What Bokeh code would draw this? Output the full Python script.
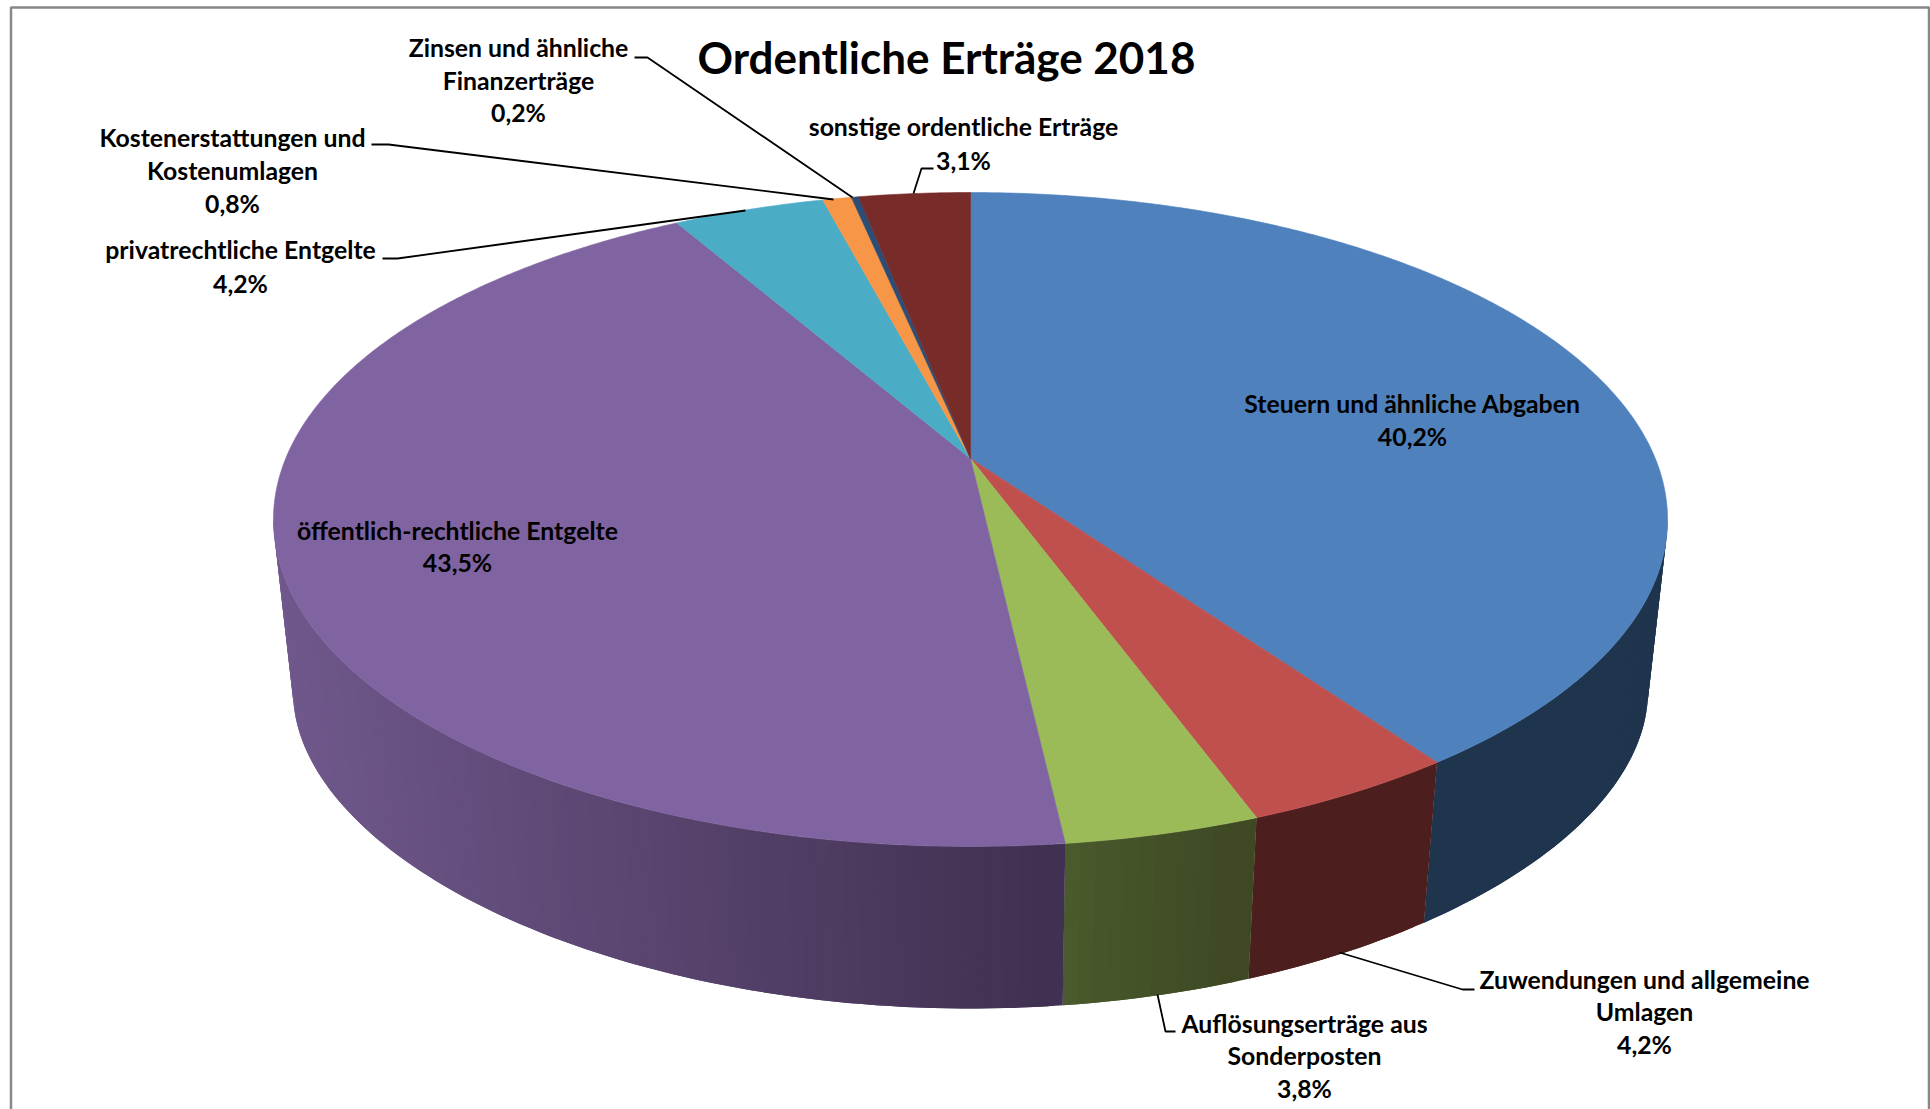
import math
from bokeh.plotting import figure
from bokeh.models import Range1d
from bokeh.core.properties import value
from bokeh.embed import file_html
from bokeh.resources import INLINE

title = "Ordentliche Erträge 2018"
categories = ["Steuern und ähnliche Abgaben", "Zuwendungen und allgemeine Umlagen",
              "Auflösungserträge aus Sonderposten", "öffentlich-rechtliche Entgelte",
              "privatrechtliche Entgelte", "Kostenerstattungen und Kostenumlagen",
              "Zinsen und ähnliche Finanzerträge", "sonstige ordentliche Erträge"]
shares = [40.2, 4.2, 3.8, 43.5, 4.2, 0.8, 0.2, 3.1]
top_colors = ["#4F81BD", "#C0504D", "#9BBB59", "#8064A2", "#4BACC6", "#F79646", "#2C4D75", "#772C2A"]
wall_left = ["#1F344D", "#4C1F1E", "#4B5C2D", "#70588C", "#2C6070", "#8A5020", "#16283C", "#3C1615"]
wall_right = ["#1F344D", "#4C1F1E", "#3E4823", "#403050", "#2C6070", "#8A5020", "#16283C", "#3C1615"]
label_lines = [["Steuern und ähnliche Abgaben", "40,2%"],
               ["Zuwendungen und allgemeine", "Umlagen", "4,2%"],
               ["Auflösungserträge aus", "Sonderposten", "3,8%"],
               ["öffentlich-rechtliche Entgelte", "43,5%"],
               ["privatrechtliche Entgelte", "4,2%"],
               ["Kostenerstattungen und", "Kostenumlagen", "0,8%"],
               ["Zinsen und ähnliche", "Finanzerträge", "0,2%"],
               ["sonstige ordentliche Erträge", "3,1%"]]

# layout (page pixels)
label_x = [1412, 1644, 1304, 457, 240, 232, 518, 963]
label_base = [[403, 436], [979, 1011, 1044], [1023, 1055, 1088], [530, 562],
              [249, 283], [137, 170, 203], [47, 80, 112], [126, 160]]
leaders = [None,
           ([1474, 1462, 1339], [989, 989, 952]),
           ([1175, 1165, 1157], [1031, 1031, 994]),
           None,
           ([382, 397, 745], [258, 258, 210]),
           ([371, 388, 833], [144, 144, 199]),
           ([634, 647, 852], [57, 57, 197]),
           ([933, 921, 913], [168, 168, 193])]

# perspective of the disc
CX, CY, A, B, K = 970.0, 458.0, 684.8, 315.6, 0.1865
S_X, BY0, BB, BK = 0.972, 636.0, 279.0, 0.25


def top_pt(deg):
    a = math.radians(deg)
    u, v = math.sin(a), math.cos(a)
    w = 1 + K * v
    return CX + A * u / w, CY - B * v / w


def bottom_pt(deg):
    a = math.radians(deg)
    u, v = math.sin(a), math.cos(a)
    return CX + S_X * A * u / (1 + K * v), BY0 - BB * v / (1 + BK * v)


def mix(c1, c2, t):
    a = [int(c1[i:i + 2], 16) for i in (1, 3, 5)]
    b = [int(c2[i:i + 2], 16) for i in (1, 3, 5)]
    return "#%02X%02X%02X" % tuple(round(p + (q - p) * t) for p, q in zip(a, b))


p = figure(width=1930, height=1109, x_range=Range1d(0, 1930), y_range=Range1d(1109, 0),
           toolbar_location=None, output_backend="svg", min_border=0,
           x_axis_location=None, y_axis_location=None)
p.grid.visible = False
p.outline_line_color = None
p.background_fill_color = "#FFFFFF"
p.border_fill_color = "#FFFFFF"

# frame
p.line([10.5, 10.5, 1928.5, 1928.5], [1109, 7, 7, 1109], line_color="#888888", line_width=2.5)

# wedge angles
edges = [0.0]
for s in shares:
    edges.append(edges[-1] + s / sum(shares) * 360.0)

# side wall: overlapping strips, painted in order, so that no seams show
wall_start = math.degrees(math.acos(-K))
wall_end = 360.0 - wall_start
for i in range(len(shares)):
    a0, a1 = max(edges[i], wall_start), min(edges[i + 1], wall_end)
    if a1 <= a0:
        continue
    n = max(2, int((a1 - a0) / 1.0))
    angs = [a0 + (a1 - a0) * j / n for j in range(n + 1)]
    xe = [top_pt(t)[0] for t in angs]
    xl, xr = min(xe), max(xe)
    xs, ys, cols = [], [], []
    for j in range(n - 1, -1, -1):
        # painted from the last strip back to the first, each reaching over its neighbour
        arc = angs[j:min(j + 3, n + 1)]
        q = [top_pt(t) for t in arc] + [bottom_pt(t) for t in reversed(arc)]
        xs.append([c[0] for c in q])
        ys.append([c[1] for c in q])
        tm = ((xe[j] + xe[j + 1]) / 2 - xl) / max(xr - xl, 1)
        cols.append(mix(wall_left[i], wall_right[i], tm))
    p.patches(xs, ys, fill_color=cols, line_color=None)

# top surface
for i in range(len(shares)):
    a0, a1 = edges[i], edges[i + 1]
    n = max(3, int((a1 - a0) / 0.5))
    pts = [top_pt(a0 + (a1 - a0) * j / n) for j in range(n + 1)]
    xs = [CX] + [c[0] for c in pts]
    ys = [CY] + [c[1] for c in pts]
    p.patch(xs, ys, fill_color=top_colors[i], line_color=top_colors[i], line_width=0.6)

# leader lines
for lead in leaders:
    if lead:
        p.line(lead[0], lead[1], line_color="#000000", line_width=1.8)

# labels
FONT = value("Lato")
for x0, bases, lines in zip(label_x, label_base, label_lines):
    p.text([x0] * len(lines), bases, text=lines, text_font=FONT, text_font_style="bold",
           text_font_size="24.8px", text_align="center", text_baseline="alphabetic", text_color="#000000")
p.text([946], [56], text=[title], text_font=FONT, text_font_style="bold", text_font_size="44px",
       text_align="center", text_baseline="alphabetic", text_color="#000000")

open("out.html", "w").write(file_html(p, INLINE))
